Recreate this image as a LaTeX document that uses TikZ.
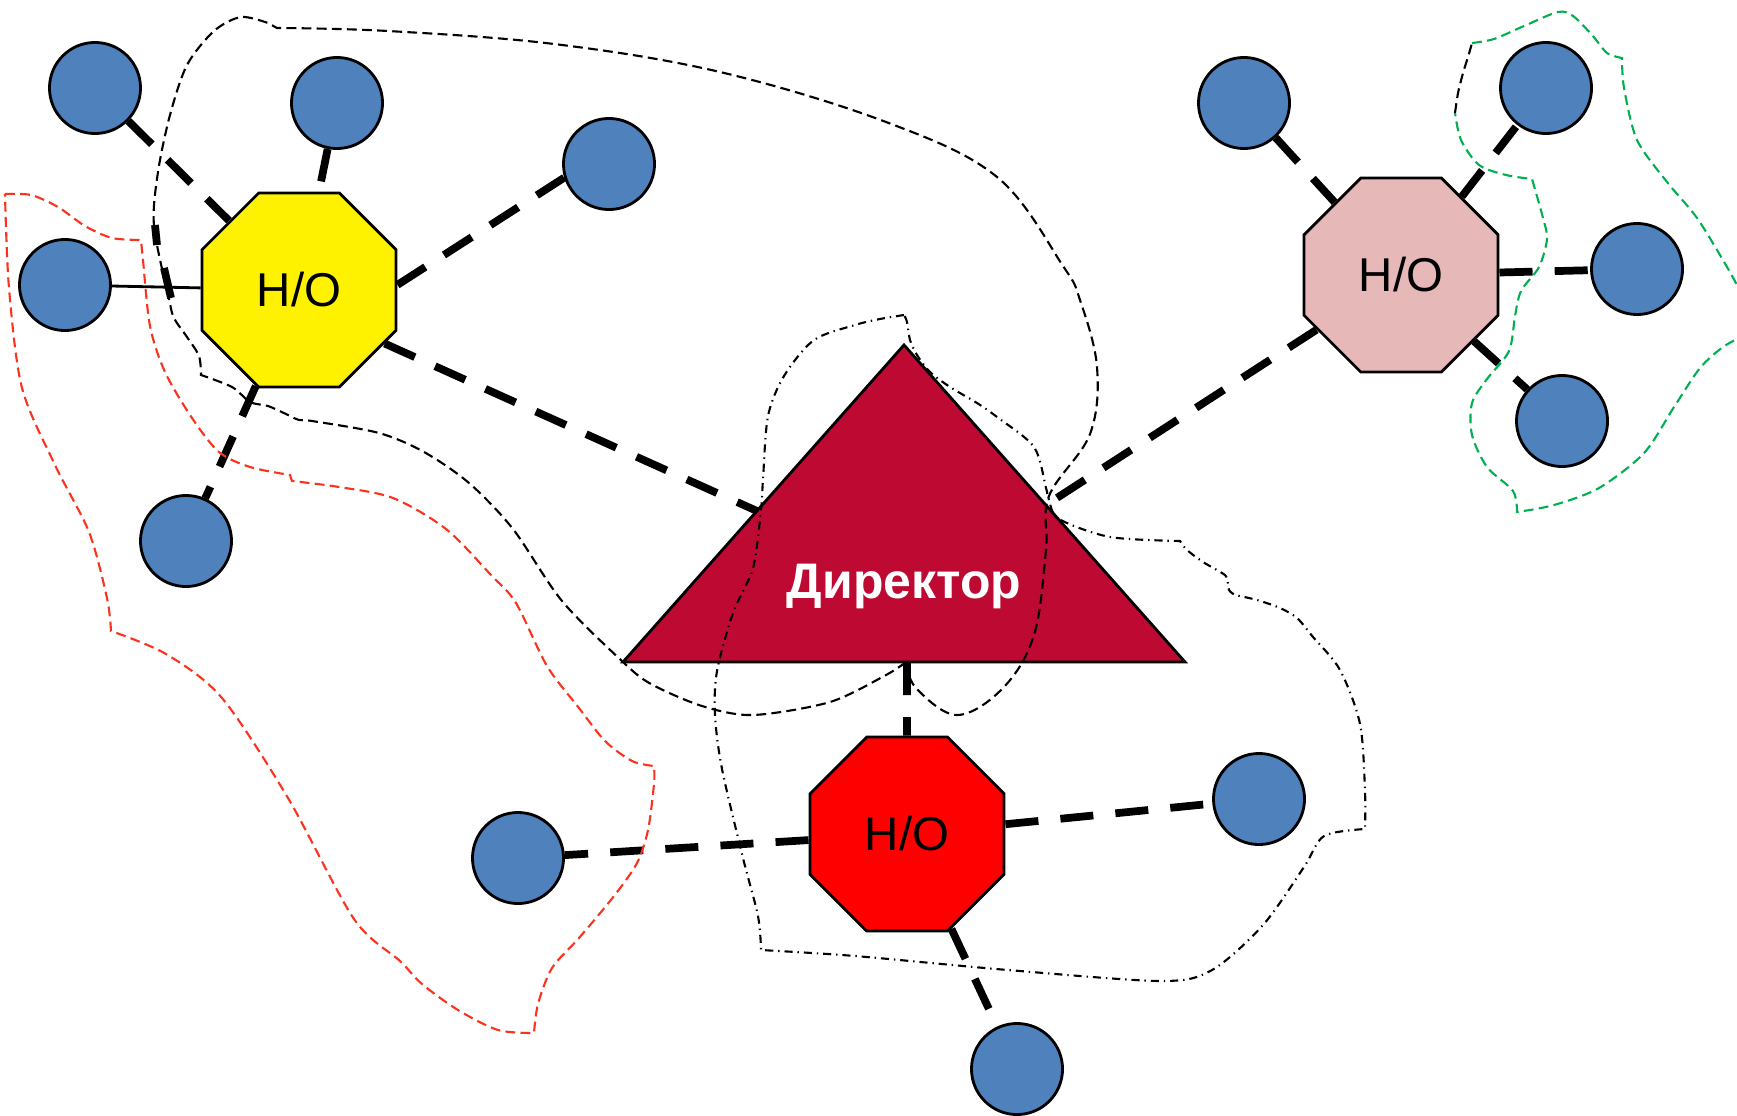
\documentclass[tikz,border=0pt]{standalone}
\usepackage{fontspec}
\setmainfont{Liberation Sans}
\usetikzlibrary{shapes.geometric}
\definecolor{empblue}{RGB}{79,129,189}
\definecolor{dirred}{RGB}{190,10,50}
\definecolor{headpink}{RGB}{230,184,183}
\definecolor{zonegreen}{RGB}{0,176,80}
\definecolor{zonered}{RGB}{250,50,30}

\begin{document}
\begin{tikzpicture}[x=0.01cm,y=-0.01cm,
   emp/.style={draw,circle,fill=empblue,minimum size=0.91cm,inner sep=0pt,line width=0.8pt},
   head/.style={draw,regular polygon,regular polygon sides=8,minimum size=2.1cm,
      inner sep=0pt,line width=0.8pt,font=\fontsize{13.5}{16}\selectfont},
   thicklink/.style={line width=2.2pt,dash pattern=on 9.4pt off 6.3pt},
   zone/.style={line width=0.6pt,dash pattern=on 2.8pt off 1.5pt},
   zonedot/.style={line width=0.6pt,dash pattern=on 2.3pt off 1.4pt on 0.4pt off 1.4pt}]
\useasboundingbox (0,0) rectangle (1737,1115);

\coordinate (apex) at (904,345);
\coordinate (dirL) at (623,662);
\coordinate (dirR) at (1185,662);
\coordinate (dirW) at (757,511);
\coordinate (dirE) at (1046,505);
\filldraw[fill=dirred,line width=0.8pt] (apex) -- (dirL) -- (dirR) -- cycle;
\node[text=white,font=\bfseries\fontsize{14.2}{17}\selectfont] (dir) at (904,586) {Директор};

\node[head,fill=yellow] (ho1) at (299,290) {H/O};
\node[head,fill=headpink] (ho2) at (1401,275) {H/O};
\node[head,fill=red] (ho3) at (907,834) {H/O};

\node[emp] (y1) at (95,88) {};
\node[emp] (y2) at (337,103) {};
\node[emp] (y3) at (609,164) {};
\node[emp] (y4) at (65,285) {};
\node[emp] (y5) at (186,541) {};
\node[emp] (p1) at (1244,103) {};
\node[emp] (p2) at (1546,88) {};
\node[emp] (p3) at (1637,269) {};
\node[emp] (p4) at (1562,421) {};
\node[emp] (r1) at (518,858) {};
\node[emp] (r2) at (1259,799) {};
\node[emp] (r3) at (1017,1069) {};

\draw[thicklink] (y1) -- (ho1);
\draw[thicklink] (y2) -- (ho1);
\draw[thicklink] (ho1.3) -- (y3.197);
\draw[line width=0.8pt] (y4) -- (ho1);
\draw[thicklink] (ho1) -- (y5);
\draw[thicklink] (ho1.-32) -- (dirW);
\draw[thicklink] (p1) -- (ho2);
\draw[thicklink] (ho2) -- (p2);
\draw[thicklink] (ho2) -- (p3);
\draw[thicklink] (ho2) -- (p4);
\draw[thicklink] (ho2) -- (dirE);
\draw[thicklink] (ho3 |- dirL) -- (ho3);
\draw[thicklink] (ho3) -- (r1);
\draw[thicklink] (ho3) -- (r2);
\draw[thicklink] (ho3) -- (r3);

\draw[zone] plot[smooth,tension=0.6] coordinates {(906,662) (916,688) (957,715) (1003,688) (1034,635) (1046,550) (1049,496) (1090,434) (1097,367) (1080,300) (1063,266) (997,177) (886,122) (720,72) (554,44) (388,31) (277,28)}
   -- plot[smooth] coordinates {(268,23) (241,17) (214,31) (187,65) (170,115) (158,172) (154,226) (169,299) (174,318) (187,337) (199,356) (201,375)}
   -- plot[smooth] coordinates {(201,375) (232,387) (250,402) (268,406) (286,414) (299,420) (312,421) (379,433) (424,452) (469,483) (513,529) (562,601) (623,662) (651,684) (702,706) (753,715) (830,702) (886,675) (906,662)} -- cycle;
\draw[line width=2.2pt] (155,225) -- (157,245);
\draw[line width=2.2pt] (164,268) -- (171,298);

\draw[zonedot] plot[smooth] coordinates {(904,315) (880,319) (855,325) (814,340) (784,376) (768,416) (763,479) (761,510) (753,568) (733,613) (717,671) (715,715) (722,769) (743,858) (758,916) (761,950)}
   -- plot[smooth] coordinates {(761,950) (855,956) (1008,970) (1161,981) (1212,970) (1263,925) (1304,867) (1324,836) (1365,829)}
   -- plot[smooth] coordinates {(1365,829) (1365,791) (1360,724) (1340,670) (1313,637) (1297,618) (1280,608) (1257,600) (1235,595)}
   -- plot[smooth] coordinates {(1235,595) (1229,590) (1227,578) (1222,573) (1203,562) (1187,550) (1180,541)}
   -- plot[smooth] coordinates {(1180,541) (1110,537) (1059,519) (1049,500) (1046,488) (1034,447) (997,417) (977,403) (950,387) (930,372) (917,355) (910,340) (907,322) (904,315)} -- cycle;

\draw[zone,draw=zonered] plot[smooth] coordinates {(5,194) (31,195) (58,207) (85,226) (112,238) (141,240)}
   -- plot[smooth] coordinates {(141,240) (143,260) (150,326) (165,372) (192,418) (219,452) (250,467) (290,475)}
   -- plot[smooth] coordinates {(292,481) (339,487) (393,498) (446,529) (491,575) (516,603) (547,666) (579,708) (605,741) (632,761) (654,766)}
   -- plot[smooth] coordinates {(654,766) (654,784) (648,830) (637,863) (614,896) (579,938) (552,968) (538,1004) (534,1033)}
   -- plot[smooth] coordinates {(534,1033) (498,1030) (458,1010) (422,984) (400,961) (354,919) (288,798) (222,698) (166,654) (111,631)}
   -- plot[smooth] coordinates {(111,631) (107,598) (89,532) (55,465) (22,388) (9,288) (5,194)} -- cycle;

\begin{scope}
\clip (0,0) rectangle (1737,1115);
\draw[zone,draw=zonegreen] plot[smooth] coordinates {(1472,43) (1494,39) (1524,26) (1558,12) (1573,16) (1592,35) (1607,53) (1622,58)}
   -- plot[smooth] coordinates {(1622,58) (1624,88) (1637,140) (1667,182) (1697,218) (1727,267) (1745,300)}
   -- plot[smooth] coordinates {(1745,335) (1723,347) (1700,368) (1674,407) (1644,453) (1599,488) (1554,505) (1517,512)}
   -- plot[smooth] coordinates {(1517,512) (1513,491) (1487,467) (1472,435) (1472,403) (1487,379) (1509,351) (1515,316) (1521,291) (1539,267) (1547,239) (1543,218) (1532,179)}
   -- plot[smooth] coordinates {(1532,179) (1506,175) (1479,165) (1461,140) (1455,113)};
\draw[zone] plot[smooth] coordinates {(1455,113) (1458,93) (1463,73) (1468,57) (1472,43)};
\end{scope}
\end{tikzpicture}
\end{document}
